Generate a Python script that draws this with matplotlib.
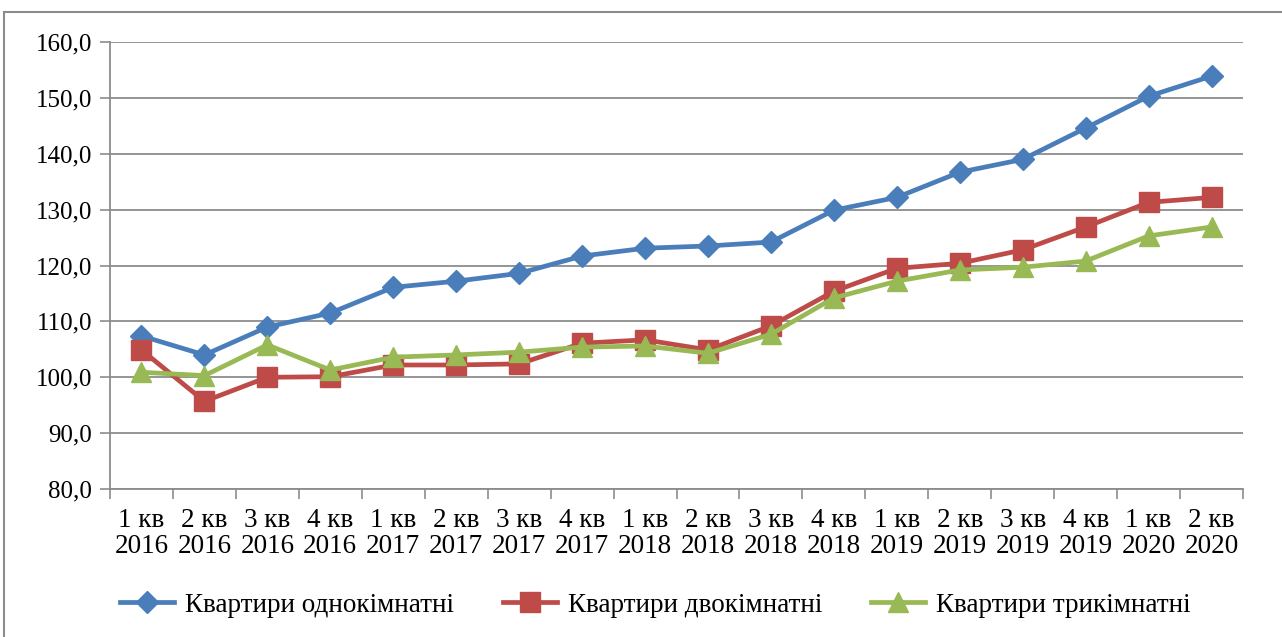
import matplotlib.pyplot as plt
import numpy as np
from matplotlib.patches import Rectangle

plt.rcParams['font.family'] = ['Liberation Serif', 'DejaVu Serif']

# quarters
quarters = ["1 кв", "2 кв", "3 кв", "4 кв"] * 4 + ["1 кв", "2 кв"]
years = ["2016"] * 4 + ["2017"] * 4 + ["2018"] * 4 + ["2019"] * 4 + ["2020"] * 2
labels = [q + "\n" + y for q, y in zip(quarters, years)]

one_room = [107.4, 104.0, 109.0, 111.5, 116.1, 117.2, 118.6, 121.7, 123.1,
            123.5, 124.2, 129.9, 132.2, 136.7, 139.0, 144.6, 150.3, 153.9]
two_room = [104.9, 95.7, 100.0, 100.1, 102.2, 102.2, 102.4, 106.1, 106.7,
            104.9, 109.2, 115.4, 119.5, 120.4, 122.8, 126.9, 131.3, 132.2]
three_room = [100.9, 100.3, 105.8, 101.3, 103.6, 104.0, 104.5, 105.4, 105.6,
              104.3, 107.7, 114.2, 117.2, 119.2, 119.7, 120.8, 125.3, 126.9]

series_names = ["Квартири однокімнатні", "Квартири двокімнатні", "Квартири трикімнатні"]

fig = plt.figure(figsize=(12.82, 6.37), dpi=100)
ax = fig.add_axes([0.0858, 0.2323, 0.8838, 0.7017])

# outer frame (right edge runs off the picture)
fig.patches.append(Rectangle((0.003, -0.05), 1.05, 1.031, transform=fig.transFigure,
                             fill=False, edgecolor="#8c8c8c", linewidth=1.5))

x = np.arange(len(labels))
ax.plot(x, one_room, color="#4a7ebb", lw=3.4, marker="D", markersize=11, label=series_names[0])
ax.plot(x, two_room, color="#be4b48", lw=3.4, marker="s", markersize=14, label=series_names[1])
ax.plot(x, three_room, color="#98b954", lw=3.4, marker="^", markersize=14, label=series_names[2])

ax.set_ylim(80, 160)
ax.set_xlim(-0.5, len(labels) - 0.5)
ax.set_yticks(np.arange(80, 161, 10))
ax.set_yticklabels([f"{v:.1f}".replace(".", ",") for v in np.arange(80, 161, 10)], fontsize=18)
ax.set_xticks(x)
ax.set_xticklabels(labels, fontsize=19.5, linespacing=1.05)
ax.set_xticks(np.arange(-0.5, len(labels), 1), minor=True)
ax.tick_params(axis="x", which="major", length=0, pad=14)
ax.tick_params(axis="x", which="minor", length=7, color="#8c8c8c", width=1.2)
ax.tick_params(axis="y", length=7, color="#8c8c8c", width=1.2, pad=6)

ax.grid(axis="y", color="#8c8c8c", lw=1.3)
ax.set_axisbelow(True)
for s in ["top", "right"]:
    ax.spines[s].set_visible(False)
for s in ["left", "bottom"]:
    ax.spines[s].set_color("#8c8c8c")
    ax.spines[s].set_linewidth(1.3)

fig.legend(loc="center", bbox_to_anchor=(0.511, 0.05), ncol=3, frameon=False,
           fontsize=19.5, columnspacing=1.8, handlelength=2.0, handletextpad=0.4)

fig.savefig("out.png", dpi=100)
